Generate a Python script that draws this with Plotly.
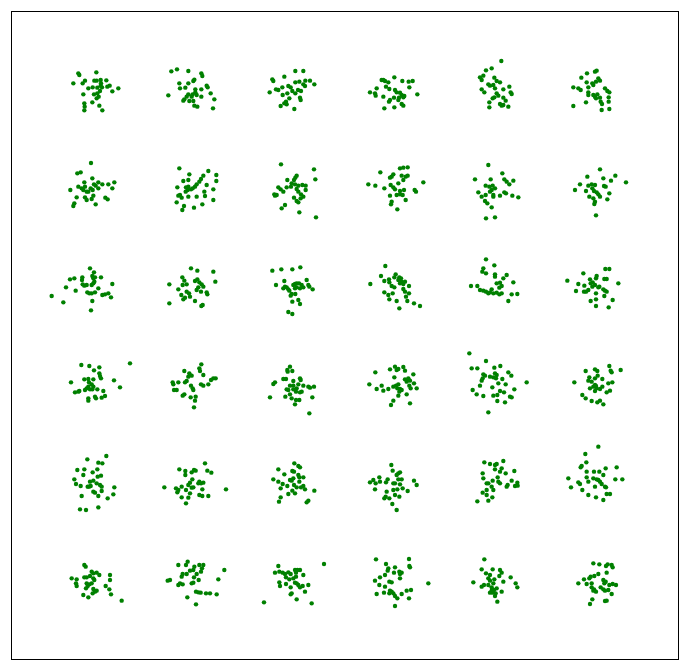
import plotly.graph_objects as go

# Point positions (units: 1/3 screen pixel, y grows downward)
row1_x = [235,238,289,220,248,255,283,290,302,319,303,302,306,329,322,355,337,265,278,292,250,282,292,296,290,277,253,254,253,298,307,300,
          514,531,565,604,607,538,565,580,583,620,623,540,556,586,604,505,632,565,578,586,590,575,560,553,550,568,580,604,643,583,592,639,
          886,910,817,820,853,886,898,916,930,943,910,915,809,828,835,847,865,872,877,894,903,886,862,848,868,858,853,842,860,902,900,883,
          1145,1150,1155,1165,1183,1207,1226,1238,1228,1158,1168,1130,1110,1125,1127,1150,1185,1190,1200,1205,1213,1210,1252,1170,1167,1182,1197,1195,1205,1210,1183,1153,
          1504,1458,1475,1440,1450,1445,1483,1490,1500,1465,1470,1480,1485,1445,1453,1510,1528,1532,1535,1490,1495,1483,1478,1510,1517,1468,1468,1500,1510,1525,1505,
          1785,1790,1761,1744,1760,1777,1788,1795,1800,1720,1735,1742,1765,1815,1822,1828,1765,1765,1780,1785,1792,1788,1800,1802,1806,1826,1826,1758,1720,1805,1828,1780]
row1_y = [220,225,217,250,250,242,242,242,240,241,250,257,262,257,260,265,274,265,262,263,283,283,280,290,295,307,310,320,331,317,331,273,
          214,208,213,220,228,250,250,243,239,257,262,265,263,268,268,286,280,283,283,277,285,290,290,298,302,303,303,290,298,317,320,325,
          213,213,238,243,230,247,245,242,242,253,253,258,277,268,270,262,258,262,273,270,273,280,280,285,295,305,310,318,313,300,293,327,
          240,240,243,247,232,243,245,243,262,260,267,265,277,280,287,290,270,277,278,285,288,292,283,300,305,293,293,300,312,317,322,325,
          183,211,205,232,227,240,233,243,247,253,257,255,265,268,277,268,260,277,282,280,287,292,295,293,302,307,322,312,315,320,317,
          215,212,220,233,247,250,245,235,242,262,265,270,262,265,273,277,277,285,285,290,283,295,293,305,312,292,305,307,318,330,327,255]

row2_x = [273,232,242,211,253,277,282,287,295,307,325,343,337,295,235,245,255,250,260,265,272,278,280,255,260,275,230,316,323,287,223,220,
          538,625,649,568,565,550,610,603,598,590,585,578,565,558,573,563,532,620,613,649,640,557,540,535,545,565,590,615,640,530,552,582,607,547,
          843,942,946,890,886,882,862,875,885,895,907,917,917,835,842,860,873,890,895,850,823,830,825,903,910,882,890,895,902,855,845,898,948,
          1200,1210,1223,1141,1170,1175,1180,1205,1210,1217,1223,1105,1126,1153,1172,1180,1185,1195,1200,1212,1190,1200,1208,1170,1217,1244,1248,1270,1175,1173,1192,
          1465,1507,1425,1472,1513,1520,1528,1540,1457,1468,1478,1485,1475,1470,1435,1445,1457,1480,1480,1500,1513,1518,1537,1555,1455,1462,1475,1458,1485,
          1800,1846,1762,1810,1833,1878,1740,1765,1775,1785,1777,1812,1817,1725,1758,1782,1790,1795,1800,1828,1768,1780,1785,1783,1822,1788]
row2_y = [489,520,517,570,547,535,553,557,547,553,553,547,565,565,560,565,560,570,575,575,565,570,587,592,600,597,592,593,598,613,610,618,
          505,513,525,523,540,543,527,537,545,553,560,565,560,562,568,570,562,555,575,543,568,575,585,587,593,590,590,588,600,607,618,623,613,630,
          493,508,538,527,533,540,540,550,553,557,555,557,570,562,568,562,560,567,575,575,583,585,587,583,590,593,603,607,595,615,625,637,652,
          505,503,502,517,533,530,523,527,540,530,527,553,557,565,555,562,568,550,573,570,585,583,585,587,600,570,575,547,605,613,628,
          495,520,538,538,538,545,553,542,557,560,557,565,570,575,577,590,585,585,590,587,577,580,587,592,603,610,622,655,652,
          508,527,530,535,542,547,553,557,553,555,565,558,560,570,573,573,577,583,590,580,590,595,605,612,598,646]

row3_x = [270,282,210,223,247,246,277,280,285,303,248,253,260,275,280,283,198,227,295,337,262,268,275,285,307,315,325,333,155,190,277,273,
          573,592,640,646,547,553,508,548,560,585,592,598,605,610,595,590,603,620,622,535,560,567,544,555,550,570,585,604,608,508,
          817,844,877,901,828,853,860,850,855,865,868,880,885,890,897,905,910,920,925,928,938,900,885,890,872,875,886,895,900,877,865,877,
          1156,1111,1143,1153,1167,1168,1183,1187,1198,1203,1205,1215,1200,1210,1175,1183,1227,1210,1215,1227,1153,1165,1178,1168,1190,1198,1222,1242,1260,1218,1195,
          1458,1483,1450,1447,1458,1485,1485,1520,1510,1490,1500,1505,1498,1540,1413,1432,1440,1450,1458,1465,1470,1475,1480,1490,1498,1505,1535,1552,1525,
          1816,1828,1750,1702,1735,1753,1770,1772,1778,1790,1788,1813,1820,1855,1785,1795,1798,1777,1765,1758,1752,1728,1810,1815,1820,1788,1788,1813,1838,1772,1788,1826]
row3_y = [805,817,838,835,832,840,828,835,832,832,853,857,855,855,850,845,862,872,865,852,877,880,880,877,885,883,880,892,888,907,903,931,
          805,812,815,845,832,842,853,855,853,843,838,847,853,860,862,870,875,877,883,868,875,880,885,893,898,890,903,918,915,910,
          812,808,808,802,855,843,862,865,860,868,872,855,852,850,850,855,862,840,855,860,868,865,865,862,887,882,882,900,912,905,936,942,
          798,852,828,843,838,847,832,823,832,835,845,845,850,852,858,862,858,867,875,880,877,885,880,898,903,925,903,910,918,890,840,
          778,796,805,815,820,823,830,825,835,850,848,858,863,847,858,858,870,872,875,880,877,868,880,878,883,880,883,882,903,
          807,807,820,842,852,857,838,850,847,828,835,837,837,850,855,862,860,860,870,875,875,873,868,872,875,880,898,888,900,903,918,922]

row4_x = [244,268,298,282,298,300,303,390,213,253,265,280,267,275,280,265,260,270,255,277,238,225,292,310,342,360,315,305,285,288,265,265,235,
          604,598,600,553,568,575,610,565,560,555,535,518,520,522,530,573,578,580,603,610,625,633,640,647,553,548,572,587,585,582,
          870,862,863,877,850,858,825,820,900,902,880,870,880,895,910,925,942,930,860,865,880,890,888,900,905,870,856,875,888,898,810,885,937,928,
          1126,1170,1185,1190,1195,1210,1215,1183,1240,1215,1225,1230,1220,1108,1130,1145,1150,1165,1180,1188,1195,1192,1200,1205,1198,1195,1228,1232,1242,1250,1220,1180,1173,1230,
          1408,1458,1415,1432,1483,1501,1525,1534,1450,1455,1448,1445,1440,1470,1480,1485,1490,1488,1507,1495,1517,1477,1580,1418,1430,1450,1480,1492,1500,1512,1530,1535,1543,1492,1515,1465,
          1828,1832,1835,1862,1785,1792,1757,1768,1765,1793,1785,1807,1723,1775,1837,1825,1785,1788,1780,1770,1790,1785,1800,1807,1820,1830,1747,1757,1775,1792,1800,1810]
row4_y = [1095,1098,1102,1111,1120,1128,1135,1090,1147,1138,1137,1138,1147,1153,1160,1160,1165,1168,1170,1168,1173,1177,1168,1173,1141,1162,1188,1193,1190,1195,1195,1202,1175,
          1093,1105,1113,1113,1120,1127,1125,1130,1143,1147,1147,1147,1153,1170,1170,1157,1165,1170,1153,1157,1153,1140,1135,1135,1183,1187,1192,1190,1202,1222,
          1100,1110,1115,1113,1137,1137,1147,1152,1135,1140,1143,1157,1157,1153,1157,1160,1160,1163,1168,1170,1168,1165,1175,1177,1175,1183,1190,1195,1200,1200,1192,1213,1192,1240,
          1117,1108,1100,1110,1107,1101,1112,1132,1123,1138,1135,1142,1145,1153,1167,1157,1172,1167,1160,1157,1153,1165,1167,1170,1175,1187,1157,1165,1150,1165,1183,1202,1215,1210,
          1060,1083,1105,1105,1103,1098,1117,1127,1123,1127,1135,1142,1157,1130,1132,1120,1125,1135,1137,1150,1153,1162,1147,1170,1183,1188,1187,1185,1173,1177,1190,1192,1168,1203,1207,1237,
          1098,1112,1117,1110,1108,1113,1113,1132,1142,1127,1135,1137,1147,1145,1147,1150,1155,1158,1160,1165,1165,1173,1167,1160,1177,1172,1185,1195,1203,1207,1202,1213]

row5_x = [262,319,295,307,232,253,292,278,250,293,303,223,228,242,280,270,290,300,263,267,272,305,343,280,285,305,295,340,323,245,240,258,295,
          538,556,556,575,582,587,615,622,634,577,570,565,598,603,610,595,493,528,535,532,545,558,575,580,570,607,607,625,598,565,545,558,678,
          883,895,900,835,853,877,882,820,835,848,842,862,870,875,880,895,898,910,882,898,890,903,910,915,877,885,865,842,837,920,925,943,
          1174,1178,1200,1195,1190,1138,1120,1110,1127,1125,1140,1158,1163,1180,1185,1195,1205,1200,1208,1192,1180,1160,1223,1242,1250,1157,1153,1168,1185,1198,1177,1190,
          1453,1470,1485,1490,1510,1485,1505,1500,1517,1543,1448,1450,1460,1465,1478,1495,1493,1500,1520,1523,1535,1545,1552,1553,1475,1460,1448,1460,1480,1477,1465,1432,
          1795,1756,1759,1745,1742,1760,1782,1798,1817,1850,1705,1735,1740,1760,1765,1780,1790,1795,1800,1810,1805,1815,1818,1846,1867,1713,1747,1785,1765,1788,1810,1820,1830]
row5_y = [1378,1368,1388,1390,1410,1408,1408,1417,1425,1430,1427,1438,1452,1458,1442,1445,1450,1455,1460,1460,1458,1460,1462,1475,1478,1473,1488,1483,1495,1488,1528,1530,1522,
          1408,1413,1425,1417,1410,1412,1390,1412,1418,1438,1448,1455,1445,1450,1448,1450,1462,1465,1470,1477,1460,1470,1463,1462,1480,1468,1488,1488,1485,1493,1492,1510,1468,
          1390,1398,1402,1408,1423,1413,1415,1438,1445,1452,1465,1458,1440,1442,1435,1425,1432,1432,1455,1445,1462,1462,1458,1468,1472,1480,1482,1492,1505,1507,1502,1472,
          1395,1412,1417,1420,1425,1432,1440,1447,1450,1468,1445,1447,1438,1450,1450,1438,1438,1453,1465,1468,1470,1475,1473,1442,1455,1490,1495,1495,1485,1490,1512,1530,
          1387,1392,1395,1392,1383,1408,1405,1415,1420,1413,1420,1435,1450,1450,1442,1445,1432,1450,1460,1455,1442,1458,1448,1457,1460,1470,1478,1485,1470,1492,1502,1504,
          1340,1362,1387,1398,1402,1415,1415,1415,1405,1402,1435,1447,1452,1432,1445,1435,1438,1440,1445,1425,1452,1460,1462,1438,1438,1462,1470,1460,1485,1492,1500,1482,1482]

row6_x = [253,257,275,280,290,298,253,260,270,280,283,215,230,228,230,260,268,275,263,258,330,330,317,328,333,280,285,290,278,250,265,365,
          535,563,558,583,598,610,606,603,580,570,560,548,545,590,582,540,535,503,510,548,575,580,596,673,655,588,595,602,618,630,650,562,588,
          835,825,838,848,855,865,872,885,892,900,888,910,858,868,880,888,838,858,840,872,885,890,895,900,908,925,915,875,872,890,792,935,972,
          1128,1227,1158,1165,1163,1185,1182,1198,1205,1200,1228,1230,1155,1140,1125,1168,1175,1200,1138,1155,1170,1175,1168,1180,1185,1192,1205,1220,1233,1130,1152,1227,1185,1285,
          1453,1445,1458,1470,1478,1500,1505,1498,1465,1470,1483,1480,1510,1532,1547,1552,1420,1445,1452,1465,1475,1482,1475,1490,1470,1478,1487,1505,1485,1492,
          1780,1798,1818,1823,1835,1838,1820,1795,1783,1772,1768,1752,1735,1760,1775,1810,1817,1813,1775,1782,1788,1780,1802,1810,1828,1838,1848,1825,1835,1815,1777,1770,1815,1820]
row6_y = [1695,1700,1715,1720,1718,1725,1732,1732,1728,1735,1740,1735,1738,1750,1758,1750,1753,1750,1758,1765,1725,1740,1758,1768,1783,1767,1775,1772,1780,1785,1792,1802,
          1695,1685,1695,1700,1695,1695,1705,1715,1710,1712,1722,1722,1730,1722,1732,1750,1755,1742,1740,1753,1750,1748,1740,1710,1738,1775,1777,1778,1780,1780,1783,1792,1813,
          1698,1718,1715,1718,1722,1717,1722,1710,1710,1710,1718,1725,1732,1738,1735,1730,1747,1752,1758,1762,1748,1750,1755,1762,1758,1755,1775,1780,1783,1798,1807,1810,1692,
          1678,1677,1692,1705,1712,1702,1718,1715,1718,1722,1698,1702,1725,1732,1742,1745,1747,1735,1755,1760,1772,1775,1780,1780,1788,1795,1782,1772,1770,1782,1778,1795,1818,1750,
          1678,1708,1720,1725,1708,1710,1718,1728,1735,1742,1738,1750,1745,1732,1750,1762,1747,1760,1755,1755,1762,1770,1772,1765,1778,1778,1780,1775,1788,1805,
          1690,1693,1698,1693,1695,1702,1718,1722,1728,1730,1735,1738,1750,1752,1750,1740,1745,1750,1762,1768,1775,1772,1762,1768,1755,1752,1755,1770,1782,1772,1798,1812,1803,1802]

xs = row1_x + row2_x + row3_x + row4_x + row5_x + row6_x
ys = row1_y + row2_y + row3_y + row4_y + row5_y + row6_y

fig = go.Figure(go.Scatter(
    x=xs, y=ys, mode="markers",
    marker=dict(size=4.4, color="#008000", line=dict(width=0)),
    hoverinfo="skip",
))

axis_common = dict(showgrid=False, zeroline=False, showticklabels=False, ticks="",
                   showline=True, mirror=True, linecolor="black", linewidth=1)
fig.update_xaxes(range=[36, 2034], **axis_common)
fig.update_yaxes(range=[1977, 36], **axis_common)
fig.update_layout(
    width=688, height=671,
    margin=dict(l=12, r=10, t=12, b=12),
    plot_bgcolor="white", paper_bgcolor="white",
    showlegend=False,
)
fig.write_html("out.html")
